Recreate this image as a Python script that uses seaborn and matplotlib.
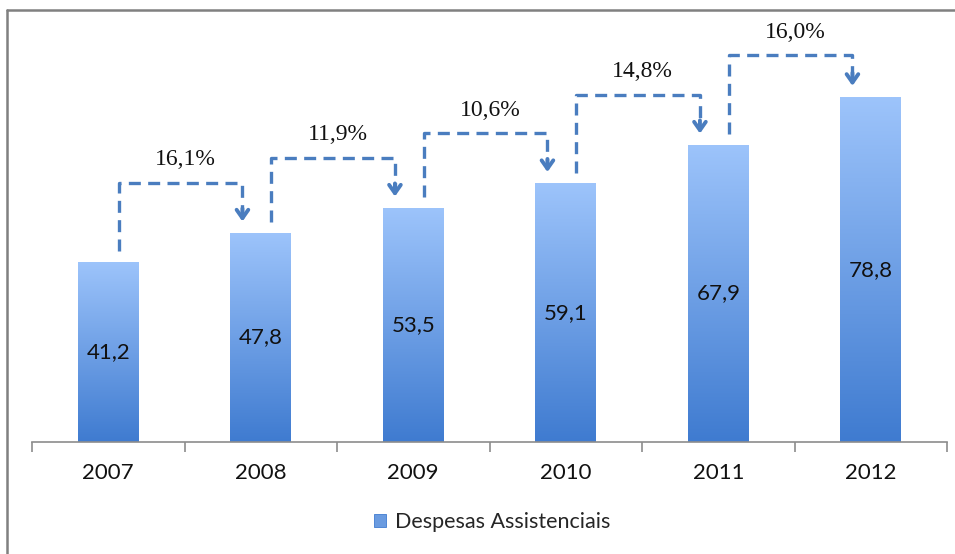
import numpy as np
import pandas as pd
import matplotlib
matplotlib.use("Agg")
import matplotlib.pyplot as plt
from matplotlib.colors import LinearSegmentedColormap
from matplotlib.patches import Patch
from matplotlib.lines import Line2D
import seaborn as sns

years = ["2007", "2008", "2009", "2010", "2011", "2012"]
despesas = [41.2, 47.8, 53.5, 59.1, 67.9, 78.8]
value_labels = ["41,2", "47,8", "53,5", "59,1", "67,9", "78,8"]
growth_labels = ["16,1%", "11,9%", "10,6%", "14,8%", "16,0%"]
series_name = "Despesas Assistenciais"

sns.set_theme(style="white")
plt.rcParams["font.family"] = ["Lato", "DejaVu Sans"]

W, H = 955, 554
fig = plt.figure(figsize=(W / 100, H / 100), dpi=100)
ax = fig.add_axes([32 / W, 1 - 442 / H, (947 - 32) / W, 437.5 / H])

df = pd.DataFrame({"ano": years, "valor": despesas})
sns.barplot(data=df, x="ano", y="valor", ax=ax, width=0.4,
            color="#6A9BE0", saturation=1, edgecolor="none")

# vertical gradient fill for each bar
grad_cmap = LinearSegmentedColormap.from_list("bar", ["#3F7BD0", "#9DC4FB"])
grad = np.linspace(0, 1, 256).reshape(-1, 1)
for p in ax.patches:
    x0, y0 = p.get_x(), p.get_y()
    w, h = p.get_width(), p.get_height()
    im = ax.imshow(grad, cmap=grad_cmap, origin="lower", aspect="auto",
                   extent=(x0, x0 + w, y0, y0 + h), zorder=p.get_zorder())
    im.set_clip_path(p)
    p.set_facecolor("none")
ax.set_xlim(-0.5, len(years) - 0.5)
ax.set_ylim(0, 100)

# value labels inside bars
for i, (v, lab) in enumerate(zip(despesas, value_labels)):
    ax.text(i, v / 2, lab, ha="center", va="center", fontsize=16,
            color="#111111", zorder=5)

# growth connectors between consecutive bars
line_col = "#4A7DBF"
for i, lab in enumerate(growth_labels):
    prev, nxt = despesas[i], despesas[i + 1]
    xs = i + 0.07
    xe = i + 1 - 0.12
    y_start = prev + 2.5
    y_tip = nxt + 2.6
    level = min(nxt + 11.5, 88.5)
    ax.plot([xs, xs, xe, xe], [y_start, level, level, y_tip + 2.0],
            color=line_col, lw=2.4, ls=(0, (3.6, 2.2)), zorder=4,
            solid_capstyle="butt", dash_capstyle="butt", clip_on=False)
    ax.annotate("", xy=(xe, y_tip), xytext=(xe, y_tip + 3.0),
                arrowprops=dict(arrowstyle="->,head_length=0.5,head_width=0.35",
                                color=line_col, lw=2.8, shrinkA=0, shrinkB=0),
                zorder=4, annotation_clip=False)
    ax.text((xs + xe) / 2 + 0.03, level + 2.8, lab, ha="center", va="bottom",
            fontsize=17, family=["Liberation Serif", "DejaVu Serif"],
            color="#111111", zorder=5)

# axes styling
for s in ["top", "right", "left"]:
    ax.spines[s].set_visible(False)
ax.spines["bottom"].set_color("#8C8C8C")
ax.spines["bottom"].set_linewidth(1.2)
ax.set_yticks([])
ax.set_xlabel("")
ax.set_ylabel("")
ax.set_xticks(np.arange(-0.5, len(years)), minor=True)
ax.tick_params(axis="x", which="minor", length=7, width=1.2, color="#8C8C8C",
               direction="out", bottom=True)
ax.tick_params(axis="x", which="major", length=0, pad=15, labelsize=16,
               labelcolor="#111111")

# legend
handle = Patch(facecolor="#6A9BE0", edgecolor="#3F7BD0", linewidth=0.6)
fig.legend([handle], [series_name], loc="center",
           bbox_to_anchor=(492 / W, 1 - 522 / H), frameon=False, fontsize=15.5,
           handlelength=0.6, handleheight=0.6, handletextpad=0.4)

# outer frame (left and top edges)
fig.add_artist(Line2D([7 / W, 7 / W], [0, 1 - 10 / H], transform=fig.transFigure,
                      color="#808080", lw=1.8))
fig.add_artist(Line2D([7 / W, 1], [1 - 10 / H, 1 - 10 / H], transform=fig.transFigure,
                      color="#808080", lw=1.8))

fig.savefig("out.png", dpi=100)
